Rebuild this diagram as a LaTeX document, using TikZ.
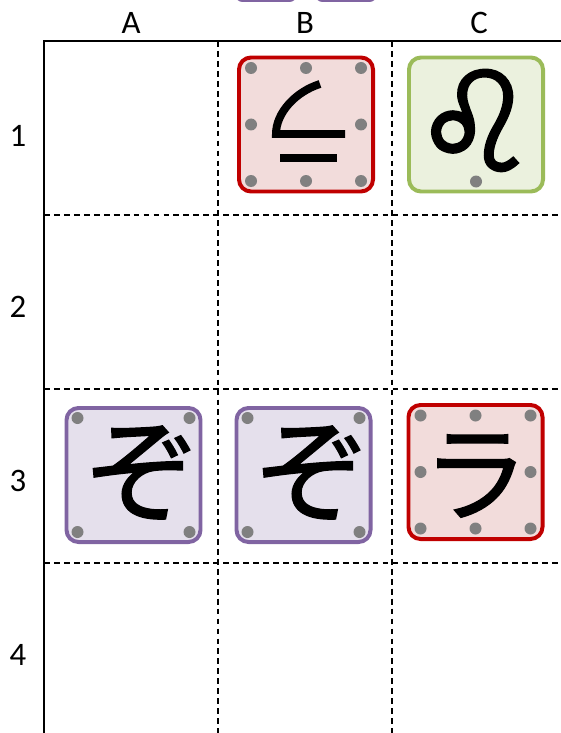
\documentclass[tikz,border=0pt]{standalone}
\usepackage{fontspec}
\setmainfont{Carlito}
\newfontfamily\jpfont[FakeBold=1.2]{Noto Sans CJK JP}
\newfontfamily\symfont[FakeBold=2]{DejaVu Sans}
\usetikzlibrary{calc}
\definecolor{tilered}{RGB}{192, 0, 0}
\definecolor{tileredbg}{RGB}{242, 220, 219}
\definecolor{tilegreen}{RGB}{155, 187, 89}
\definecolor{tilegreenbg}{RGB}{235, 241, 222}
\definecolor{tilepurple}{RGB}{128, 100, 162}
\definecolor{tilepurplebg}{RGB}{229, 224, 236}
\definecolor{pingray}{RGB}{128, 128, 128}

\begin{document}
\begin{tikzpicture}[
    x=0.03cm, y=-0.03cm,
    tile/.style={rectangle, rounded corners=0.36cm, line width=3.4pt, minimum size=4.02cm, inner sep=0pt},
    redtile/.style={tile, draw=tilered, fill=tileredbg},
    greentile/.style={tile, draw=tilegreen, fill=tilegreenbg},
    purpletile/.style={tile, draw=tilepurple, fill=tilepurplebg},
    glyph/.style={inner sep=0pt, font=\jpfont\fontsize{98}{98}\selectfont},
    pin/.style={circle, fill=pingray, minimum size=0.36cm, inner sep=0pt},
    glyphline/.style={line width=6.8pt, miter limit=20},
    axis/.style={font=\fontsize{28}{30}\selectfont},
    frame/.style={line width=2.4pt, line cap=rect},
    cellline/.style={line width=1.6pt, dash pattern=on 5pt off 3.5pt}
]
\useasboundingbox (0,0) rectangle (560,733);

% trays cut off at the top
\begin{scope}
\clip (0,0) rectangle (560,733);
\draw[tilepurple, fill=tilepurplebg, line width=2pt, rounded corners=0.2cm] (236,-40) rectangle (296,0.8);
\draw[tilepurple, fill=tilepurplebg, line width=2pt, rounded corners=0.2cm] (316,-40) rectangle (376,0.8);
\end{scope}

% board
\foreach \x in {218, 392}
    \draw[cellline] (\x,41) -- (\x,733);
\foreach \y in {215, 389, 563}
    \draw[cellline] (44,\y) -- (560,\y);
\draw[frame] (44,733) -- (44,41) -- (560,41);

\foreach \c/\x in {A/131, B/305, C/479}
    \node[axis] (col\c) at (\x,23) {\c};
\foreach \r/\y in {1/136, 2/307, 3/481, 4/655}
    \node[axis] (row\r) at (18,\y) {\r};

% tiles
\node[redtile] (b1) at (306,124.5) {};
\node[greentile] (c1) at (476,124.5) {};
\node[purpletile] (a3) at (133.5,475) {};
\node[purpletile] (b3) at (303.5,475) {};
\node[redtile] (c3) at (475.5,472) {};

\node[glyph, font=\symfont\fontsize{118}{118}\selectfont] (c1g) at ($(c1.center)+(-1,-4)$) {♌};
\node[glyph] (a3g) at ($(a3.center)+(9,-2)$) {ぞ};
\node[glyph] (b3g) at ($(b3.center)+(9,-2)$) {ぞ};
\node[glyph, font=\jpfont\fontsize{90}{90}\selectfont] (c3g) at ($(c3.center)+(0,4)$) {ラ};

% angle with underbar, drawn
\begin{scope}[shift={(b1.center)}]
\draw[glyphline] (14,-40.5) .. controls (-10,-33) and (-30,-12) .. (-30,9.5) -- (39,9.5);
\draw[glyphline] (-26,33.5) -- (31,33.5);
\end{scope}

% pins
\foreach \dx/\dy [count=\i] in {-1/-1, 0/-1, 1/-1, 1/0, 1/1, 0/1, -1/1, -1/0} {
    \node[pin] (b1-\i) at ($(b1.center)+(\dx*55,\dy*56.5)$) {};
    \node[pin] (c3-\i) at ($(c3.center)+(\dx*55,\dy*56.5)$) {};
}
\foreach \dx/\dy [count=\i] in {-1/-1, 1/-1, 1/1, -1/1} {
    \node[pin] (a3-\i) at ($(a3.center)+(\dx*56,\dy*57)$) {};
    \node[pin] (b3-\i) at ($(b3.center)+(\dx*56,\dy*57)$) {};
}
\node[pin] (c1-1) at ($(c1.center)+(0,57)$) {};
\end{tikzpicture}
\end{document}
